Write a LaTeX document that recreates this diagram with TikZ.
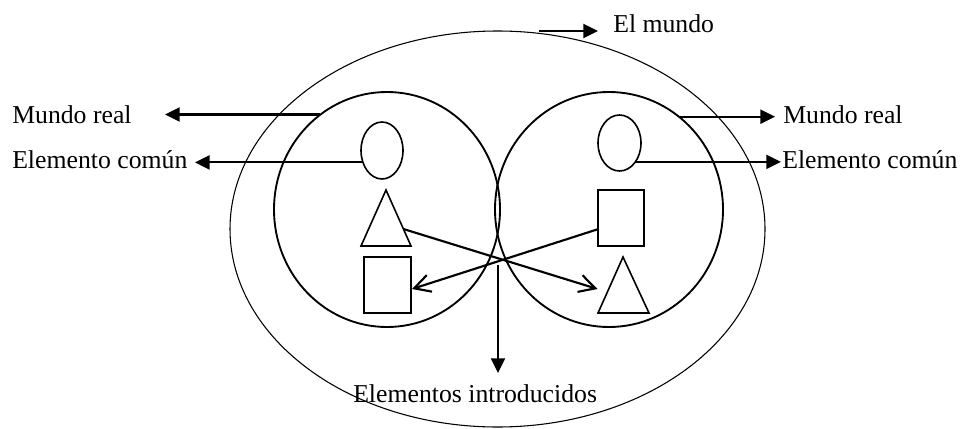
\documentclass[tikz,border=0pt]{standalone}
\usepackage{fontspec}
\setmainfont{Liberation Serif}
\usetikzlibrary{shapes.geometric,arrows.meta}
\begin{document}
\begin{tikzpicture}[x=0.75pt,y=-0.75pt,
  lbl/.style={inner sep=0pt, font=\fontsize{19.3}{23}\selectfont},
  oval/.style={ellipse, draw, inner sep=0pt, outer sep=0pt},
  box/.style={rectangle, draw, line width=1.2pt, inner sep=0pt, outer sep=0pt},
  tri/.style={draw, line width=1.2pt, line join=miter},
  lblarrow/.style={line width=1.6pt, -{Triangle[length=11pt,width=10.5pt]}},
  xarrow/.style={line width=1.6pt, -{Straight Barb[length=12pt,width=13pt]}},
  ]
\useasboundingbox (0,0) rectangle (962,428);

% outer world ellipse and the two circles
\node[oval, line width=0.8pt, minimum width=401.25pt, minimum height=297pt] (world) at (497.5,229) {};
\node[oval, line width=1.4pt, minimum width=169.5pt, minimum height=176.25pt] (lc) at (387,209.5) {};
\node[oval, line width=1.4pt, minimum width=171pt, minimum height=176.25pt] (rc) at (609,209.5) {};

% small shapes
\node[oval, line width=1.2pt, minimum width=31.5pt, minimum height=42.75pt] (le) at (382,150.5) {};
\node[oval, line width=1.2pt, minimum width=32.25pt, minimum height=42pt] (re) at (619.5,143) {};
\node[box, minimum width=35.25pt, minimum height=42pt] (lsq) at (387.5,285) {};
\node[box, minimum width=34.5pt, minimum height=42pt] (rsq) at (621,218) {};
\draw[tri] (386,190) -- (411,246) -- (361,246) -- cycle;
\draw[tri] (623,257) -- (649,313) -- (598,313) -- cycle;

% labels
\node[lbl, anchor=base west] (mrl) at (12,123) {Mundo real};
\node[lbl, anchor=base west] (ecl) at (12,168) {Elemento común};
\node[lbl, anchor=base west] (elm) at (613,33) {El mundo};
\node[lbl, anchor=base west] (mrr) at (783,123) {Mundo real};
\node[lbl, anchor=base west] (ecr) at (782,168) {Elemento común};
\node[lbl, anchor=base west] (intro) at (353,402) {Elementos introducidos};

% free ends of the connectors
\coordinate (mrlT) at (165,115);
\coordinate (eclT) at (195,163);
\coordinate (elmT) at (598,31);
\coordinate (mrrT) at (775,115);
\coordinate (ecrT) at (781,162);
\coordinate (ltout) at (403.4,229);
\coordinate (rtin) at (597.5,289);
\coordinate (rsqout) at (598.5,229);
\coordinate (lsqin) at (412,289);
\coordinate (xpt) at (498,265);
\coordinate (introT) at (498,373);

% label connectors
\draw[lblarrow] (lc.125.7) -- (mrlT |- lc.125.7);
\draw[lblarrow] (le.212) -- (eclT |- le.212);
\draw[lblarrow] (world.78.7 |- elmT) -- (elmT);
\draw[lblarrow] (rc.53.5) -- (mrrT |- rc.53.5);
\draw[lblarrow] (re.-50) -- (ecrT |- re.-50);
\draw[lblarrow] (xpt) -- (introT);

% crossing connectors
\draw[xarrow] (ltout) -- (rtin);
\draw[xarrow] (rsqout) -- (lsqin);
\end{tikzpicture}
\end{document}
